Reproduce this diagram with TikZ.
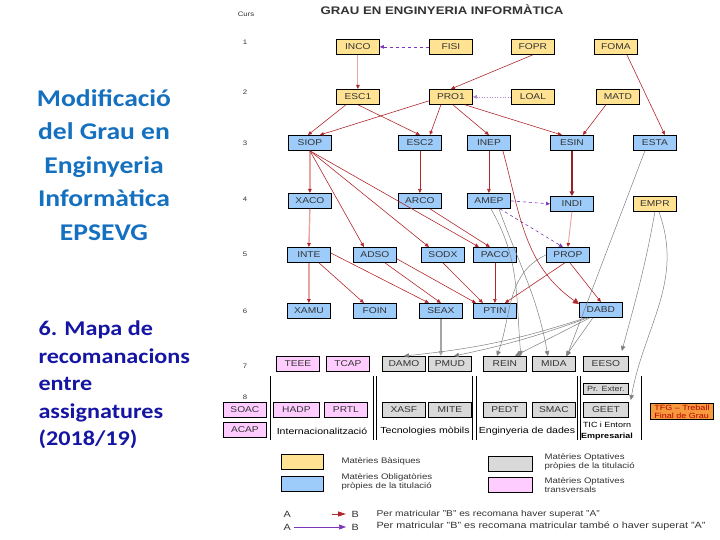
\documentclass[tikz,border=0pt]{standalone}
\usepackage{fontspec}
\setmainfont[FakeStretch=1.2]{Liberation Sans}
\newfontfamily\calibri[FakeStretch=1.15]{Carlito}
\usepackage{xcolor}
\usetikzlibrary{arrows.meta,calc}
\definecolor{cBas}{HTML}{FFE393}
\definecolor{cObl}{HTML}{9DCBFA}
\definecolor{cOpt}{HTML}{D9D9D9}
\definecolor{cTrans}{HTML}{FFCCFF}
\definecolor{cTFG}{HTML}{F79A3E}
\definecolor{cRed}{HTML}{B0282C}
\definecolor{cPinkL}{HTML}{E9A3A3}
\definecolor{cPurp}{HTML}{7B35B8}
\definecolor{cArr}{HTML}{7F7F7F}
\definecolor{cTitle}{HTML}{1570BF}
\definecolor{cSub}{HTML}{1515A3}
\definecolor{cText}{HTML}{333333}
\tikzset{
  box/.style={draw=black, line width=0.8pt, anchor=north west, minimum width=43pt,
              minimum height=15pt, inner sep=1pt, font=\fontsize{8.5}{9}\selectfont, text=cText},
  basbox/.style={box, fill=cBas},
  oblbox/.style={box, fill=cObl},
  optbox/.style={box, fill=cOpt},
  trbox/.style={box, fill=cTrans},
  rec/.style={-{Triangle[length=4pt,width=3.5pt]}, cRed, line width=0.6pt},
  recpk/.style={-{Triangle[length=4pt,width=3.5pt,color=cRed]}, draw=cPinkL, line width=1.4pt},
  recdk/.style={-{Triangle[length=4.5pt,width=4.5pt]}, draw=cRed!85!black, line width=1.8pt},
  mat/.style={-{Triangle[length=4pt,width=3.5pt]}, cPurp, dashed, line width=0.6pt},
  optarr/.style={-{Triangle[length=5pt,width=4.5pt]}, cArr, line width=0.5pt},
  num/.style={font=\fontsize{6.5}{7}\selectfont, text=cText},
  grp/.style={font=\fontsize{8.8}{12}\selectfont, text=black, align=center},
  leg/.style={font=\fontsize{8}{9.5}\selectfont, text=cText, anchor=west, align=left},
  legb/.style={leg, font=\fontsize{9}{10}\selectfont},
  sep/.style={line width=1pt, black}
}
\begin{document}
\begin{tikzpicture}[x=1pt, y=-1pt]
\useasboundingbox (0,0) rectangle (720,540);
% left titles
\node[font=\calibri\bfseries\fontsize{24}{33.5}\selectfont, text=cTitle, align=center] (tit) at (104,165)
  {Modificació\\del Grau en\\Enginyeria\\Informàtica\\EPSEVG};
\node[font=\calibri\bfseries\fontsize{21}{27.5}\selectfont, text=cSub, align=left, anchor=west] (sub) at (35,385)
  {6. Mapa de\\recomanacions\\entre\\assignatures\\(2018/19)};
\node[font=\bfseries\fontsize{11}{12}\selectfont, text=cText] (title) at (442,10) {GRAU EN ENGINYERIA INFORMÀTICA};
% course numbers
\node[num] (curs) at (246,14) {Curs};
\node[num] (c1) at (245,42) {1};
\node[num] (c2) at (245,92) {2};
\node[num] (c3) at (245,143) {3};
\node[num] (c4) at (245,199) {4};
\node[num] (c5) at (245,254) {5};
\node[num] (c6) at (245,311) {6};
\node[num] (c7) at (245,366) {7};
\node[num] (c8) at (245,397) {8};
% course 1 and 2
\node[basbox] (inco) at (336,39) {INCO};
\node[basbox] (fisi) at (429,39) {FISI};
\node[basbox] (fopr) at (511,39) {FOPR};
\node[basbox] (foma) at (594,39) {FOMA};
\node[basbox] (esc1) at (336,89) {ESC1};
\node[basbox] (pro1) at (429,89) {PRO1};
\node[basbox] (loal) at (511,89) {LOAL};
\node[basbox] (matd) at (596,89) {MATD};
% course 3 and 4
\node[oblbox] (siop) at (288,135) {SIOP};
\node[oblbox] (esc2) at (398,135) {ESC2};
\node[oblbox] (inep) at (467,135) {INEP};
\node[oblbox] (esin) at (550,135) {ESIN};
\node[oblbox] (esta) at (633,135) {ESTA};
\node[oblbox] (xaco) at (288,193) {XACO};
\node[oblbox] (arco) at (398,193) {ARCO};
\node[oblbox] (amep) at (467,193) {AMEP};
\node[oblbox] (indi) at (550,196) {INDI};
\node[basbox] (empr) at (633,196) {EMPR};
% course 5 and 6
\node[oblbox] (inte) at (287,247) {INTE};
\node[oblbox] (adso) at (353,247) {ADSO};
\node[oblbox] (sodx) at (421,247) {SODX};
\node[oblbox] (paco) at (473,247) {PACO};
\node[oblbox] (prop) at (546,247) {PROP};
\node[oblbox] (xamu) at (287,303) {XAMU};
\node[oblbox] (foin) at (353,303) {FOIN};
\node[oblbox] (seax) at (419,303) {SEAX};
\node[oblbox] (ptin) at (473,303) {PTIN};
\node[oblbox] (dabd) at (579,302) {DABD};
% course 7 and 8 (optatives)
\node[trbox] (teee) at (276,356) {TEEE};
\node[trbox] (tcap) at (326,356) {TCAP};
\node[optbox] (damo) at (382,356) {DAMO};
\node[optbox] (pmud) at (428,356) {PMUD};
\node[optbox] (rein) at (483,356) {REIN};
\node[optbox] (mida) at (532,356) {MIDA};
\node[optbox, minimum width=45pt] (eeso) at (583,356) {EESO};
\node[optbox, minimum width=45pt, minimum height=11pt, font=\fontsize{7.5}{7.5}\selectfont] (prext) at (583,383) {Pr. Exter.};
\node[trbox] (soac) at (223,402) {SOAC};
\node[trbox] (acap) at (223,422) {ACAP};
\node[trbox, minimum width=46pt] (hadp) at (273,402) {HADP};
\node[trbox] (prtl) at (324,402) {PRTL};
\node[optbox] (xasf) at (382,402) {XASF};
\node[optbox] (mite) at (428,402) {MITE};
\node[optbox] (pedt) at (483,402) {PEDT};
\node[optbox] (smac) at (532,402) {SMAC};
\node[optbox, minimum width=45pt] (geet) at (583,402) {GEET};
\node[box, fill=cTFG, minimum width=63pt, minimum height=16pt, align=left, text=red!70!black,
      font=\fontsize{7.5}{8}\selectfont] (tfg) at (650,403) {TFG -- Treball\\Final de Grau};
% mentions
\foreach \x in {270,373,376.5,472.5,476,577,580.5,641}
  \draw[sep] (\x,376) -- (\x,440);
\node[grp] (gint) at (322,431) {Internacionalització};
\node[grp] (gmob) at (425,431) {Tecnologies mòbils};
\node[grp] (gdad) at (527,431) {Enginyeria de dades};
\node[grp, font=\fontsize{7.5}{11}\selectfont] (gtic) at (607,431) {TIC i Entorn\\\textbf{Empresarial}};
% recommendations
\draw[mat] (fisi.west) -- (inco.east);
\draw[mat, cPurp!60, dotted] (loal.west) -- (pro1.east);
\draw[recpk, line width=0.9pt] (inco.south) -- (esc1.north);
\draw[rec] (fopr.south) -- (pro1.north);
\draw[rec] ([xshift=11pt]foma.south) -- ([xshift=10pt]esta.north);
\draw[rec] ([xshift=-12pt]esc1.south) -- ([xshift=-2pt]siop.north);
\draw[rec] (esc1.south) -- (esc2.north);
\draw[rec] ([yshift=4pt]pro1.south west) -- ([xshift=10pt]siop.north);
\draw[rec] ([xshift=-10pt]pro1.south) -- ([xshift=10pt]esc2.north);
\draw[rec] ([xshift=2pt]pro1.south) -- (inep.north);
\draw[rec] ([xshift=14pt]pro1.south) -- ([xshift=-10pt]esin.north);
\draw[rec] ([xshift=-12pt]matd.south) -- ([xshift=11pt]esin.north);
\draw[recpk] (siop.south) -- (xaco.north);
\draw[rec] (esc2.south) -- (arco.north);
\draw[rec] (inep.south) -- (amep.north);
\draw[recdk] (esin.south) -- (indi.north);
\draw[mat] (amep.east) -- (indi.west);
\draw[rec] (siop.south) -- ([xshift=-11pt]adso.north);
\draw[rec] (siop.south) -- ([xshift=-14pt]sodx.north);
\draw[rec] (siop.south) -- ([xshift=-16pt]paco.north);
\draw[rec] ([xshift=10pt]arco.south) -- ([xshift=-5pt]paco.north);
\draw[recpk] (xaco.south) -- (inte.north);
\draw[recpk] (inte.south) -- (xamu.north);
\draw[rec] ([xshift=10pt]inte.south) -- ([xshift=-11pt]foin.north);
\draw[rec] ([yshift=-6pt]inte.north east) -- ([xshift=-12pt]seax.north);
\draw[rec] ([xshift=10pt]adso.south) -- (seax.north);
\draw[rec] ([yshift=4pt]adso.south east) -- ([xshift=-19pt]ptin.north);
\draw[rec] (sodx.south) -- ([xshift=-12pt]ptin.north);
\draw[rec] (paco.south) -- (ptin.north);
\draw[rec] ([xshift=-3pt]prop.south) -- ([xshift=10pt]ptin.north);
\draw[rec] ([xshift=2pt]prop.south) -- (dabd.north);
\draw[recpk, line width=0.9pt] (indi.south) -- (prop.north);
\draw[mat] ([xshift=11pt]amep.south) -- ([xshift=-5pt]prop.north);
\draw[rec, -{Triangle[length=6pt,width=6pt]}] ([xshift=14pt]inep.south) to[out=-75,in=145] ([yshift=-2pt]dabd.north west);
% recommended optional subjects
\draw[optarr, cArr!70, line width=1.2pt] (seax.south) -- (seax.south |- pmud.north);
\draw[optarr] ([xshift=-15pt]dabd.south) to[bend left=6] (damo.north);
\draw[optarr] ([xshift=-13pt]dabd.south) to[bend left=4] ([xshift=4pt]pmud.north);
\draw[optarr] ([xshift=-11pt]dabd.south) -- ([xshift=10pt]rein.north);
\draw[optarr] ([xshift=-8pt]dabd.south) -- ([xshift=12pt]mida.north);
\draw[optarr] ([xshift=10pt]amep.south) to[out=-70,in=100] ([xshift=-6pt]mida.north);
\draw[optarr] ([xshift=2pt]amep.south) to[out=-60,in=95] ([xshift=16pt]rein.north);
\draw[optarr] (prop.west) to[out=205,in=70] ([xshift=-8pt]rein.north);
\draw[optarr] ([xshift=-10pt]esta.south) -- ([xshift=13pt]mida.north);
\draw[optarr] (empr.south) to[out=-100,in=75] ([xshift=16pt,yshift=5pt]eeso.north);
\draw[optarr] ([xshift=4pt]empr.south) to[out=-70,in=80] ([xshift=2pt,yshift=2pt]geet.north east);
% legend
\node[basbox, minimum width=42pt] (lbas) at (281,454) {};
\node[leg] (tbas) at (338,461) {Matèries Bàsiques};
\node[oblbox, minimum width=42pt] (lobl) at (281,476) {};
\node[leg] (tobl) at (338,482) {Matèries Obligatòries\\pròpies de la titulació};
\node[optbox, minimum width=44pt] (lopt) at (488,456) {};
\node[leg] (topt) at (541,462) {Matèries Optatives\\pròpies de la titulació};
\node[trbox, minimum width=44pt] (ltr) at (488,477) {};
\node[leg] (ttr) at (541,485) {Matèries Optatives\\transversals};
\node[legb] (la1) at (280,514) {A};
\node[legb] (lb1) at (348,514) {B};
\coordinate (ls1) at (332,514);
\draw[-{Triangle[length=8pt,width=5pt]}, cRed, line width=1pt] (ls1) -- ([xshift=-2pt]lb1.west);
\node[legb, font=\fontsize{8.5}{10}\selectfont] (lt1) at (373,514) {Per matricular "B" es recomana haver superat "A"};
\node[legb] (la2) at (280,527) {A};
\node[legb] (lb2) at (348,527) {B};
\draw[-{Triangle[length=7pt,width=5pt]}, cPurp, line width=0.6pt] (la2.east) -- ([xshift=-2pt]lb2.west);
\node[legb] (lt2) at (373,526) {Per matricular "B" es recomana matricular també o haver superat "A"};
\end{tikzpicture}
\end{document}
